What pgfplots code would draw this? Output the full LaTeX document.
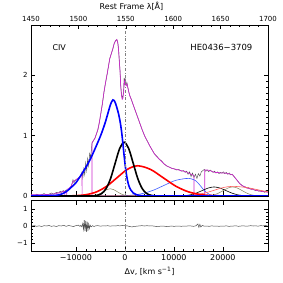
\documentclass[border=0pt]{standalone}
\usepackage{fontspec}
\setmainfont{DejaVu Sans}
\usepackage{pgfplots}
\pgfplotsset{compat=1.18}
\definecolor{magc}{RGB}{204,40,204}
\definecolor{obsc}{RGB}{80,80,80}
\definecolor{tblue}{RGB}{60,90,255}
\definecolor{tred}{RGB}{255,95,95}
\definecolor{olivc}{RGB}{130,130,90}
\pgfplotsset{
  common/.style={scale only axis, width=237bp, xmin=-19171, xmax=29212,
    scaled x ticks=false, scaled y ticks=false,
    tick align=inside, major tick length=4.5bp, minor tick length=2.2bp,
    every tick/.style={black, line width=0.4bp},
    axis line style={line width=0.6bp},
    tick label style={font=\fontsize{7}{8}\selectfont},
    minor x tick num=4,
    yticklabel pos=left,
  }
}
\begin{document}
\begin{tikzpicture}
\path[use as bounding box] (-31bp,-87bp) rectangle (252bp,196bp);
\begin{axis}[common, at={(0,0)}, anchor=south west, height=171bp, ymin=0, ymax=2.83,
  xtick={-10000,0,10000,20000}, xticklabels={}, xtick pos=lower,
  ytick={0,1,2}, yticklabels={0,1,2}, minor y tick num=9, clip=true]
% observed spectrum
\addplot[obsc, line width=0.45bp] coordinates {
(-19000,0.02) (-18500,0.00) (-18000,0.03) (-17500,0.01) (-17000,0.02) (-16500,0.04) (-16000,0.02) (-15500,0.03) (-15000,0.05) (-14500,0.03) (-14000,0.06) (-13500,0.05) (-13200,0.08) (-12900,0.06) (-12600,0.09) (-12300,0.07) (-12000,0.10) (-11700,0.09) (-11400,0.12) (-11100,0.14) (-10800,0.20) (-10600,0.27) (-10400,0.22) (-10100,0.26) (-9800,0.28) (-9500,0.30) (-9200,0.31) (-8900,0.34) (-8750,0.40) (-8600,0.30) (-8400,0.45) (-8200,0.35) (-8000,0.55) (-7800,0.42) (-7600,0.62) (-7400,0.50) (-7200,0.70) (-7000,0.64) (-6700,0.88) (-6400,0.92) (-6100,0.96) (-5800,1.03) (-5500,1.10) (-5200,1.22) (-4900,1.37) (-4600,1.52) (-4300,1.70) (-4000,1.85) (-3700,1.98) (-3400,2.12) (-3100,2.27) (-2800,2.35) (-2500,2.42) (-2200,2.52) (-1900,2.57) (-1650,2.59) (-1450,2.54) (-1300,2.44) (-1150,2.25) (-1000,2.08) (-850,1.82) (-700,1.68) (-550,1.62) (-400,1.66) (-250,1.75) (-150,1.95) (-50,1.88) (50,1.96) (150,1.86) (250,1.83) (400,1.88) (600,1.80) (800,1.72) (1000,1.66) (1300,1.60) (1600,1.53) (2000,1.44) (2400,1.35) (2800,1.26) (3100,1.19) (3500,1.10) (4000,1.00) (4500,0.92) (5000,0.84) (5500,0.77) (6000,0.70) (6500,0.66) (7000,0.61) (7500,0.58) (8000,0.53) (8500,0.50) (9000,0.48) (9500,0.46) (10000,0.45) (10500,0.43) (11000,0.44) (11500,0.41) (12000,0.42) (12300,0.39) (12600,0.41) (12900,0.36) (13200,0.40) (13500,0.32) (13800,0.38) (14100,0.31) (14400,0.36) (14700,0.29) (15000,0.37) (15300,0.33) (15600,0.40) (15900,0.42) (16200,0.44) (16500,0.41) (16800,0.43) (17100,0.40) (17400,0.43) (17700,0.41) (18000,0.39) (18300,0.41) (18600,0.38) (18900,0.40) (19200,0.37) (19500,0.39) (19800,0.38) (20100,0.40) (20400,0.37) (20700,0.39) (21000,0.36) (21300,0.38) (21600,0.35) (21900,0.36) (22200,0.33) (22500,0.30) (22800,0.27) (23100,0.24) (23400,0.21) (23700,0.19) (24000,0.17) (24300,0.15) (24600,0.15) (24900,0.13) (25200,0.14) (25500,0.12) (25800,0.11) (26100,0.12) (26400,0.10) (26700,0.09) (27000,0.10) (27300,0.08) (27600,0.09) (27900,0.07) (28200,0.08) (28500,0.06) (28800,0.09) (29100,0.07)};
% total (magenta)
\addplot[magc, line width=0.65bp] coordinates {
(-19171,0.02) (-17000,0.02) (-15000,0.03) (-14000,0.04) (-13200,0.06) (-12800,0.07) (-12300,0.08) (-12250,0.0) (-11900,0.0) (-11850,0.11) (-11500,0.12) (-11000,0.16) (-10600,0.24) (-10200,0.26) (-9800,0.28) (-9400,0.30) (-9000,0.33) (-8800,0.38) (-8750,0.38) (-8740,0.0) (-6720,0.0) (-6710,0.88) (-6400,0.92) (-6100,0.96) (-5800,1.03) (-5500,1.11) (-5200,1.23) (-4900,1.38) (-4600,1.53) (-4300,1.71) (-4000,1.86) (-3700,1.99) (-3400,2.13) (-3100,2.27) (-2800,2.35) (-2500,2.43) (-2200,2.52) (-1900,2.57) (-1650,2.59) (-1450,2.53) (-1300,2.42) (-1150,2.24) (-1000,2.07) (-850,1.82) (-700,1.66) (-550,1.60) (-400,1.62) (-250,1.72) (-150,1.90) (-50,1.86) (50,1.90) (150,1.85) (250,1.83) (400,1.86) (600,1.79) (800,1.72) (1000,1.66) (1300,1.60) (1600,1.53) (2000,1.44) (2400,1.35) (2800,1.26) (3200,1.17) (3600,1.08) (4000,1.00) (4500,0.92) (5000,0.84) (5500,0.77) (6000,0.70) (6500,0.65) (7000,0.61) (7500,0.57) (8000,0.53) (8500,0.50) (9000,0.48) (9500,0.46) (10000,0.45) (10500,0.44) (11000,0.43) (11500,0.42) (12000,0.41) (12500,0.40) (13000,0.38) (13500,0.36) (14000,0.34) (14100,0.33) (14110,0.03) (16300,0.03) (16310,0.43) (16800,0.43) (17400,0.42) (18000,0.40) (18500,0.39) (19000,0.39) (19500,0.38) (20000,0.38) (20500,0.38) (21000,0.37) (21500,0.36) (22000,0.35) (22400,0.31) (22800,0.27) (23200,0.23) (23600,0.19) (24000,0.17) (24500,0.15) (25000,0.13) (25500,0.12) (26000,0.11) (26500,0.10) (27000,0.09) (27500,0.08) (28000,0.075) (28500,0.07) (29212,0.06)};
% thin components
\addplot[olivc, line width=0.5bp, smooth] coordinates {
(-19171,0) (-8600,0) (-7200,0.001) (-6500,0.005) (-5800,0.016) (-5100,0.039) (-4400,0.073) (-3700,0.106) (-3000,0.12) (-2300,0.106) (-1600,0.073) (-900,0.039) (-200,0.016) (500,0.005) (1200,0.001) (2600,0) (15600,0) (16300,0.0017) (17250,0.0066) (18200,0.020) (19150,0.049) (20100,0.091) (21050,0.132) (22000,0.15) (22950,0.132) (23900,0.091) (24850,0.049) (25800,0.020) (26750,0.0066) (27700,0.0017) (29212,0)};
\addplot[tblue, line width=0.6bp, smooth] coordinates {
(-19171,0) (-3000,0) (-1000,0.003) (1250,0.013) (3500,0.039) (5750,0.094) (8000,0.176) (10250,0.256) (12500,0.29) (13500,0.285) (14500,0.25) (15300,0.18) (16000,0.11) (16700,0.055) (17500,0.018) (18500,0.003) (20000,0) (29212,0)};
\addplot[black, line width=0.6bp, smooth] coordinates {
(-19171,0) (10000,0) (11000,0.0017) (12200,0.0066) (13400,0.020) (14600,0.049) (15800,0.091) (17000,0.132) (18200,0.15) (19400,0.132) (20600,0.091) (21800,0.049) (23000,0.020) (24200,0.0066) (25400,0.0017) (27000,0) (29212,0)};
\addplot[tred, line width=0.6bp, smooth] coordinates {
(-19171,0) (9000,0) (10900,0.0018) (12750,0.007) (14600,0.022) (16450,0.052) (18300,0.097) (20150,0.141) (22000,0.16) (24750,0.141) (27500,0.097) (29212,0.068)};
% broad components
\addplot[red, line width=1.6bp, smooth] coordinates {
(-19171,0) (-14000,0) (-12100,0.001) (-10000,0.0056) (-7900,0.022) (-5800,0.068) (-3700,0.162) (-1600,0.303) (500,0.441) (2600,0.50) (5200,0.441) (7800,0.303) (10400,0.162) (13000,0.068) (15600,0.022) (18200,0.0056) (20800,0.001) (23000,0) (29212,0)};
\addplot[black, line width=1.6bp, smooth] coordinates {
(-19171,0) (-7550,0) (-6625,0.002) (-5700,0.010) (-4775,0.039) (-3850,0.120) (-2925,0.289) (-2000,0.540) (-1075,0.785) (-150,0.89) (775,0.785) (1700,0.540) (2625,0.289) (3550,0.120) (4475,0.039) (5400,0.010) (6325,0.002) (7250,0) (29212,0)};
\addplot[blue, line width=1.6bp, smooth] coordinates {
(-19171,0.003) (-16000,0.006) (-14000,0.012) (-13000,0.03) (-12000,0.07) (-11000,0.14) (-10000,0.22) (-9000,0.34) (-8000,0.47) (-7000,0.62) (-6000,0.80) (-5000,0.99) (-4500,1.10) (-4000,1.22) (-3500,1.36) (-3000,1.50) (-2700,1.56) (-2450,1.59) (-2200,1.58) (-1900,1.53) (-1600,1.45) (-1300,1.36) (-1000,1.24) (-700,1.08) (-400,0.86) (-100,0.62) (200,0.42) (500,0.27) (800,0.17) (1200,0.10) (1700,0.05) (2400,0.02) (3500,0.005) (5000,0.001) (7000,0) (29212,0)};
\addplot[gray, dash dot, line width=0.5bp] coordinates {(0,0) (0,2.83)};
\node[anchor=west, font=\fontsize{8}{9}\selectfont] at (axis description cs:0.076,0.868) {CIV};
\node[anchor=east, font=\fontsize{8.5}{9}\selectfont] at (axis description cs:0.949,0.868) {HE0436−3709};
\end{axis}
\begin{axis}[scale only axis, width=237bp, height=171bp, at={(0,0)}, anchor=south west,
  xmin=1450, xmax=1700, ymin=0, ymax=1, hide y axis,
  tick align=inside, major tick length=4.5bp, minor tick length=2.2bp,
  every tick/.style={black, line width=0.4bp},
  axis line style={line width=0.6bp},
  xtick pos=upper, xticklabel pos=upper,
  xtick={1450,1500,1550,1600,1650,1700}, xticklabels={1450,1500,1550,1600,1650,1700},
  minor x tick num=4,
  tick label style={font=\fontsize{7}{8}\selectfont}, clip=false]
\addplot[draw=none] coordinates {(1450,0) (1700,1)};
\node[font=\fontsize{8}{9}\selectfont] at (axis description cs:0.424,1.111) {Rest Frame λ[Å]};
\end{axis}
\begin{axis}[common, at={(0,-4.5bp)}, anchor=north west, height=51bp, ymin=-1.5, ymax=1.5,
  ytick={-1,0,1}, yticklabels={−1,0,1}, minor y tick num=4,
  xtick={-10000,0,10000,20000}, xticklabels={−10000,0,10000,20000}, xticklabel pos=lower,
  xticklabel style={font=\fontsize{8}{9}\selectfont}, clip=true]
\addplot[obsc, line width=0.5bp] coordinates {
(-19000,0.00) (-18500,0.02) (-18000,-0.02) (-17500,0.01) (-17000,-0.03) (-16500,0.02) (-16000,0.00) (-15500,0.03) (-15000,-0.02) (-14500,0.01) (-14000,-0.03) (-13500,0.02) (-13000,0.00) (-12500,0.04) (-12000,-0.02) (-11500,0.03) (-11000,0.00) (-10500,-0.03) (-10000,0.02) (-9500,0.05) (-9200,-0.02) (-9000,0.04) (-8800,-0.05) (-8600,0.15) (-8450,-0.20) (-8300,0.35) (-8150,-0.30) (-8000,0.30) (-7850,-0.35) (-7700,0.25) (-7550,-0.30) (-7400,0.12) (-7250,-0.15) (-7100,0.05) (-6900,-0.05) (-6600,0.02) (-6300,-0.03) (-6000,0.01) (-5500,0.02) (-5000,-0.01) (-4500,0.01) (-4000,0.00) (-3500,0.02) (-3000,-0.01) (-2500,0.01) (-2000,0.00) (-1500,0.02) (-1000,0.01) (-500,0.03) (0,0.02) (500,0.01) (1000,-0.04) (1500,-0.05) (2000,-0.02) (2500,-0.01) (3000,0.01) (3500,0.02) (4000,0.00) (4500,0.02) (5000,0.00) (5500,0.01) (6000,-0.01) (6500,-0.03) (7000,-0.02) (7500,0.00) (8000,-0.01) (8500,-0.03) (9000,-0.02) (9500,0.00) (10000,-0.02) (10500,-0.01) (11000,0.00) (11500,-0.02) (12000,0.00) (12500,-0.01) (13000,0.01) (13500,0.00) (14000,-0.02) (14500,0.01) (14900,0.12) (15100,-0.08) (15300,0.10) (15500,-0.06) (15800,0.03) (16200,-0.01) (16700,0.00) (17200,-0.02) (17700,0.01) (18200,-0.01) (18700,0.00) (19200,-0.02) (19700,0.00) (20200,-0.01) (20700,0.01) (21200,-0.02) (21700,-0.01) (22200,0.00) (22700,0.01) (23200,-0.02) (23700,0.00) (24200,0.01) (24700,-0.01) (25200,0.00) (25700,0.02) (26200,0.00) (26700,0.01) (27200,-0.01) (27700,0.02) (28200,0.01) (28700,0.03) (29100,0.02)};
\addplot[gray, dash dot, line width=0.5bp] coordinates {(0,-1.5) (0,1.5)};
\end{axis}
\node[font=\fontsize{8}{9}\selectfont] at (118.5bp,-75.5bp) {Δv, [km s\textsuperscript{−1}]};
\end{tikzpicture}
\end{document}
